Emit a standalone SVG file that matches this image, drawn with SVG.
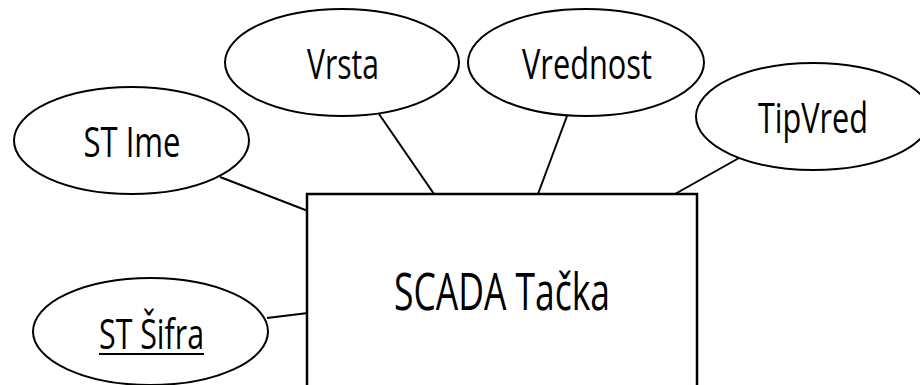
<svg xmlns="http://www.w3.org/2000/svg" width="920" height="385" viewBox="0 0 920 385">
<style>
.attr{fill:#fff;stroke:#000;stroke-width:2}
.ent{fill:#fff;stroke:#000;stroke-width:2.5}
.lbl{font-family:"Open Sans","Liberation Sans",Arial,sans-serif;font-size:42px;fill:#000;text-anchor:middle}
.big{font-size:51px}
.con line{stroke:#000;stroke-width:2}
</style>
<rect width="920" height="385" fill="#fff"/>
<g id="connectors" class="con">
<line x1="220" y1="177" x2="308" y2="211"/>
<line x1="267" y1="318" x2="308" y2="313"/>
<line x1="379" y1="114" x2="434" y2="194"/>
<line x1="567" y1="116" x2="538" y2="194"/>
<line x1="739" y1="158" x2="675" y2="194"/>
</g>
<g id="scada-tacka">
<rect class="ent" x="307" y="194" width="390" height="200"/>
<text class="lbl big" x="502" y="310" textLength="216" lengthAdjust="spacingAndGlyphs">SCADA Tačka</text>
</g>
<g id="st-ime">
<ellipse class="attr" cx="131.5" cy="140.5" rx="117.5" ry="53.5"/>
<text class="lbl" x="132" y="157" textLength="97" lengthAdjust="spacingAndGlyphs">ST Ime</text>
</g>
<g id="st-sifra">
<ellipse class="attr" cx="150.5" cy="331.5" rx="117.5" ry="53.5"/>
<text class="lbl" x="151.5" y="349" textLength="105" lengthAdjust="spacingAndGlyphs">ST Šifra</text>
<line x1="99" y1="354" x2="204" y2="354" stroke="#000" stroke-width="2"/>
</g>
<g id="vrsta">
<ellipse class="attr" cx="342" cy="62.5" rx="117" ry="53.5"/>
<text class="lbl" x="343" y="79" textLength="72" lengthAdjust="spacingAndGlyphs">Vrsta</text>
</g>
<g id="vrednost">
<ellipse class="attr" cx="586" cy="62.5" rx="118" ry="53.5"/>
<text class="lbl" x="587" y="79" textLength="130" lengthAdjust="spacingAndGlyphs">Vrednost</text>
</g>
<g id="tipvred">
<ellipse class="attr" cx="813.5" cy="116.5" rx="117.5" ry="53.5"/>
<text class="lbl" x="813" y="133" textLength="110" lengthAdjust="spacingAndGlyphs">TipVred</text>
</g>
</svg>
